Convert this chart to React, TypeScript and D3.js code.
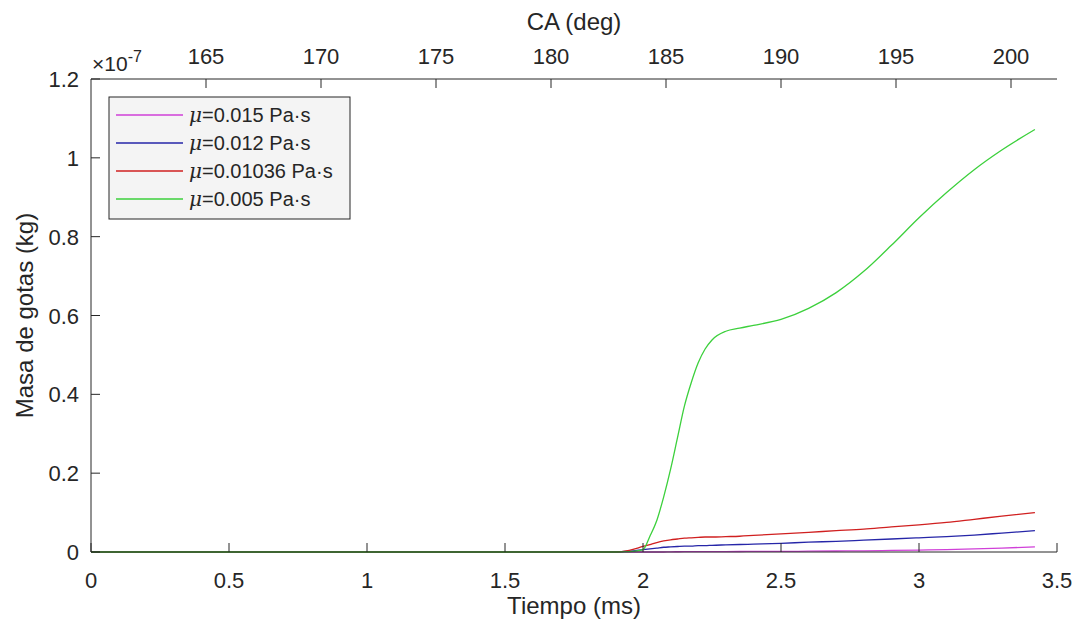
import React from "react";
import * as d3 from "d3";

const timeMs = [0, 1.9, 1.95, 2.0, 2.025, 2.05, 2.075, 2.1, 2.125, 2.15, 2.175, 2.2, 2.225, 2.25, 2.3, 2.35, 2.4, 2.5, 2.6, 2.7, 2.8, 2.9, 3.0, 3.1, 3.2, 3.3, 3.42];
const mu0015 = [0, 0, 0, 0, 0, 0, 0, 0.0005, 0.0006, 0.0007, 0.0009, 0.001, 0.001, 0.0011, 0.0012, 0.0013, 0.0014, 0.0015, 0.002, 0.0025, 0.003, 0.004, 0.005, 0.006, 0.008, 0.01, 0.013];
const mu0012 = [0, 0, 0.002, 0.006, 0.008, 0.01, 0.012, 0.013, 0.014, 0.015, 0.015, 0.016, 0.016, 0.017, 0.018, 0.019, 0.02, 0.022, 0.025, 0.027, 0.03, 0.033, 0.036, 0.039, 0.043, 0.048, 0.054];
const mu001036 = [0, 0, 0.004, 0.014, 0.019, 0.024, 0.028, 0.031, 0.033, 0.035, 0.036, 0.037, 0.038, 0.038, 0.039, 0.04, 0.042, 0.046, 0.05, 0.054, 0.058, 0.064, 0.069, 0.075, 0.083, 0.091, 0.1];
const mu0005 = [0, 0, 0.001, 0.006, 0.04, 0.08, 0.14, 0.21, 0.29, 0.37, 0.43, 0.48, 0.515, 0.538, 0.56, 0.568, 0.575, 0.59, 0.618, 0.658, 0.712, 0.778, 0.848, 0.912, 0.97, 1.02, 1.072];

const seriesLabels = ["0.015", "0.012", "0.01036", "0.005"];
const seriesColors = ["#d040d8", "#2626a8", "#d02020", "#3cd03c"];
const seriesValues = [mu0015, mu0012, mu001036, mu0005];

const xTicks = [0, 0.5, 1, 1.5, 2, 2.5, 3, 3.5];
const yTicks = [0, 0.2, 0.4, 0.6, 0.8, 1, 1.2];
const caTicks = [165, 170, 175, 180, 185, 190, 195, 200];

const W = 1078, H = 628;
const L = 91, R = 1057, T = 79, B = 552;
const FONT = "'Liberation Sans', Arial, Helvetica, sans-serif";
const AX = "#262626";

export default function App() {
  const x = d3.scaleLinear().domain([0, 3.5]).range([L, R]);
  const xCA = d3.scaleLinear().domain([160, 202]).range([L, R]);
  const y = d3.scaleLinear().domain([0, 1.2]).range([B, T]);
  const line = d3
    .line<[number, number]>()
    .x((d) => x(d[0]))
    .y((d) => y(d[1]))
    .curve(d3.curveMonotoneX);

  const tickLen = 9;
  const legX = 109, legY = 97, legW = 241, rowH = 28;
  const legH = rowH * 4 + 10;

  return (
    <svg width={W} height={H} style={{ position: "absolute", left: 0, top: 0, background: "#fff" }} fontFamily={FONT}>
      <rect x={0} y={0} width={W} height={H} fill="#fff" />
      {/* curves */}
      <g fill="none" strokeWidth={1.3}>
        {seriesValues.map((vals, i) => (
          <path key={i} d={line(timeMs.map((t, j) => [t, vals[j]] as [number, number])) || ""} stroke={seriesColors[i]} />
        ))}
      </g>
      {/* axes lines */}
      <g stroke={AX} strokeWidth={1} fill="none">
        <line x1={L} y1={T} x2={L} y2={B} />
        <line x1={L} y1={B} x2={R} y2={B} />
        <line x1={L} y1={T} x2={R} y2={T} />
        {xTicks.map((t) => (
          <line key={"xt" + t} x1={x(t)} x2={x(t)} y1={B} y2={B - tickLen} />
        ))}
        {yTicks.map((t) => (
          <line key={"yt" + t} x1={L} x2={L + tickLen} y1={y(t)} y2={y(t)} />
        ))}
        {caTicks.map((t) => (
          <line key={"ct" + t} x1={xCA(t)} x2={xCA(t)} y1={T} y2={T + tickLen} />
        ))}
      </g>
      {/* tick labels */}
      <g fill={AX} fontSize={22}>
        {xTicks.map((t) => (
          <text key={"xl" + t} x={x(t)} y={B + 36} textAnchor="middle">{String(t)}</text>
        ))}
        {yTicks.map((t) => (
          <text key={"yl" + t} x={L - 12} y={y(t) + 8} textAnchor="end">{String(t)}</text>
        ))}
        {caTicks.map((t) => (
          <text key={"cl" + t} x={xCA(t)} y={T - 15} textAnchor="middle">{String(t)}</text>
        ))}
      </g>
      {/* exponent */}
      <text x={L + 1} y={T - 8} fill={AX} fontSize={21}>
        <tspan>×10</tspan>
        <tspan dy={-9} fontSize={16}>-7</tspan>
      </text>
      {/* axis titles */}
      <text x={(L + R) / 2} y={B + 62} textAnchor="middle" fontSize={24} fill={AX}>Tiempo (ms)</text>
      <text x={(L + R) / 2} y={30} textAnchor="middle" fontSize={24} fill={AX}>CA (deg)</text>
      <text transform={`translate(33,${(T + B) / 2}) rotate(-90)`} textAnchor="middle" fontSize={24} fill={AX}>Masa de gotas (kg)</text>
      {/* legend */}
      <g>
        <rect x={legX} y={legY} width={legW} height={legH} fill="#f4f4f4" stroke={AX} strokeWidth={1} />
        {seriesLabels.map((lab, i) => {
          const cy = legY + 18 + i * rowH;
          return (
            <g key={lab}>
              <line x1={legX + 7} x2={legX + 74} y1={cy} y2={cy} stroke={seriesColors[i]} strokeWidth={1.3} />
              <text x={legX + 80} y={cy + 7} fontSize={20} fill={AX}>
                <tspan fontStyle="italic" fontFamily="'DejaVu Serif', serif">μ</tspan>
                <tspan>{"=" + lab + " Pa·s"}</tspan>
              </text>
            </g>
          );
        })}
      </g>
    </svg>
  );
}
